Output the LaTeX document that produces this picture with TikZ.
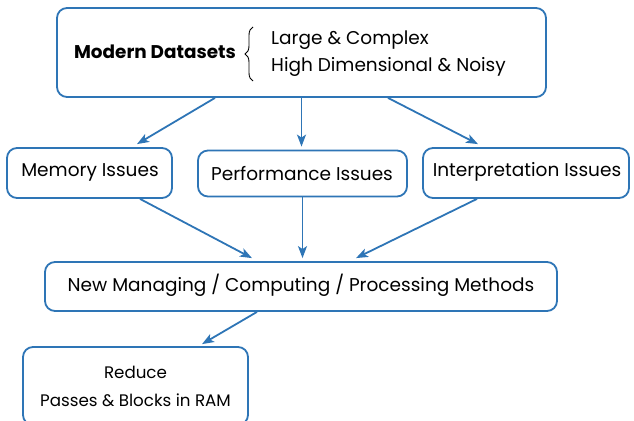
\documentclass[tikz,border=0pt]{standalone}
\usepackage{fontspec}
\setmainfont{Poppins}
\usetikzlibrary{arrows.meta,calc,decorations.pathreplacing}
\definecolor{edgeblue}{RGB}{46,117,182}
\tikzset{
  box/.style={draw=edgeblue, line width=1.8pt, rounded corners=10pt, inner sep=0pt},
  link/.style={draw=edgeblue, line width=1.8pt, -{Stealth[length=12pt,width=9pt,inset=3pt]}},
  txt/.style={font=\fontsize{18.5}{21}\selectfont, inner sep=0pt},
  smalltxt/.style={font=\fontsize{16.7}{19}\selectfont, inner sep=0pt},
  curly/.style={decorate, decoration={brace, amplitude=8pt}, line width=0.9pt},
}
\begin{document}
\begin{tikzpicture}[x=1pt,y=-1pt]
\useasboundingbox (0,0) rectangle (634,420);

% boxes
\node[box, minimum width=489pt, minimum height=89pt] (top) at (301.5,52.5) {};
\node[box, minimum width=165pt, minimum height=50pt] (mem) at (89.5,173) {};
\node[box, minimum width=209pt, minimum height=46pt] (perf) at (302.5,173.5) {};
\node[box, minimum width=206pt, minimum height=50pt] (interp) at (526,173) {};
\node[box, minimum width=512pt, minimum height=49pt] (new) at (301,286.5) {};
\node[box, minimum width=225pt, minimum height=78pt] (red) at (135.5,386) {};

% texts
\node[txt, font=\fontsize{18.4}{21}\selectfont\bfseries] (md) at (155,52) {Modern Datasets};
\node[txt, anchor=west] (lc) at (271,40) {Large \& Complex};
\node[txt, anchor=west] (hd) at (271,67) {High Dimensional \& Noisy};
\coordinate (braceA) at (253,81);
\coordinate (braceB) at (253,27);
\draw[curly] (braceA) -- (braceB);
\node[txt] (tmem) at (90,172) {Memory Issues};
\node[txt] (tperf) at (302,174) {Performance Issues};
\node[txt] (tint) at (527,172) {Interpretation Issues};
\node[txt] (tnew) at (301,285) {New Managing / Computing / Processing Methods};
\node[smalltxt] (tr1) at (135.5,372) {Reduce};
\node[smalltxt] (tr2) at (135.5,400) {Passes \& Blocks in RAM};

% connectors
\draw[link] ($(top.south)+(-86.5,0)$) -- ($(mem.north)+(47.5,-3)$);
\draw[link] (top.south) -- ($(perf.north)+(-1,-3)$);
\draw[link] ($(top.south)+(86.5,0)$) -- ($(interp.north)+(-48,-3)$);
\draw[link] ($(mem.south)+(50.5,0)$) -- ($(new.north)+(-49,-3)$);
\draw[link] (perf.south) -- ($(new.north)+(1.5,-3)$);
\draw[link] ($(interp.south)+(-49,0)$) -- ($(new.north)+(55,-3)$);
\draw[link] ($(new.south)+(-44,0)$) -- ($(red.north)+(66.5,-2)$);
\end{tikzpicture}
\end{document}
